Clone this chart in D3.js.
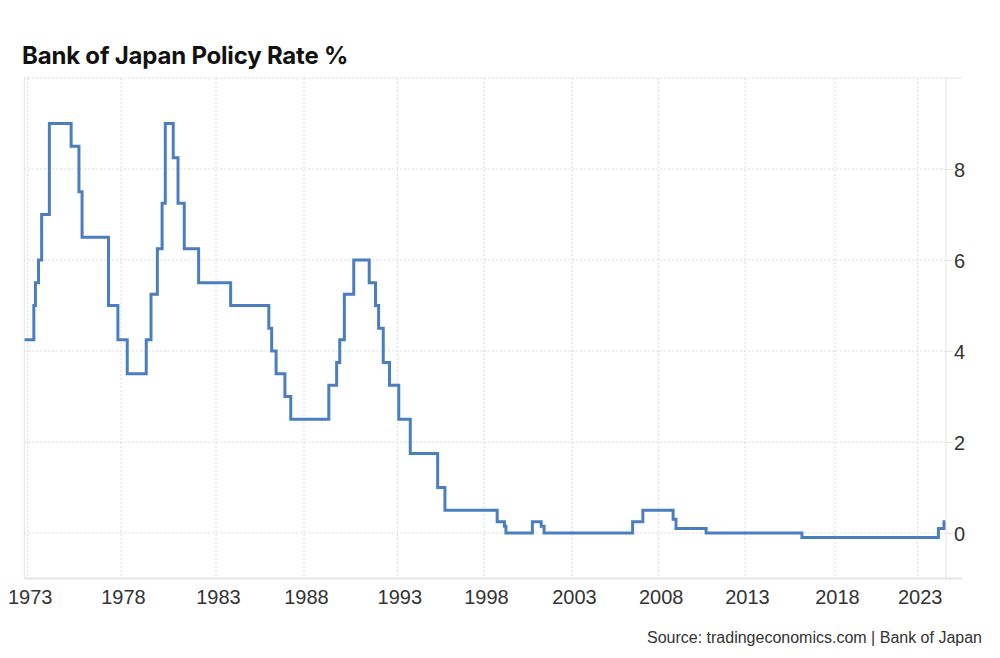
<!DOCTYPE html>
<html>
<head>
<meta charset="utf-8">
<script src="https://cdn.jsdelivr.net/npm/d3@7"></script>
<style>
  body { margin: 0; background: #fff; }
  #chart text { font-family: "Liberation Sans", Arial, sans-serif; }
  .grid line { stroke: #d9d9d9; stroke-dasharray: 2,2; }
  .axis path, .axis line { stroke: #e3e3e3; }
  .axis text { fill: #333; font-size: 20px; }
</style>
</head>
<body>
<div id="chart"></div>
<script>
// Bank of Japan policy rate, step chart

// Data (month the new rate starts, rate in %)
const rateDates = [
  '1972-11', '1973-05', '1973-06', '1973-08', '1973-10', '1974-03',
  '1975-05', '1975-10', '1975-12', '1977-05', '1977-11', '1978-05',
  '1979-05', '1979-08', '1979-12', '1980-03', '1980-05', '1980-10',
  '1981-01', '1981-05', '1982-02', '1983-11', '1986-01', '1986-03',
  '1986-06', '1986-12', '1987-04', '1989-05', '1989-10', '1989-12',
  '1990-03', '1990-09', '1991-07', '1991-11', '1992-01', '1992-04',
  '1992-08', '1993-02', '1993-10', '1995-05', '1995-10', '1998-10',
  '1999-03', '1999-04', '2000-10', '2001-04', '2001-06', '2006-07',
  '2007-02', '2008-11', '2009-01', '2010-10', '2016-03', '2024-04',
  '2024-08', '2024-09'
]
const rateValues = [
  4.25, 5.0, 5.5, 6.0, 7.0, 9.0,
  8.5, 7.5, 6.5, 5.0, 4.25, 3.5,
  4.25, 5.25, 6.25, 7.25, 9.0, 8.25,
  7.25, 6.25, 5.5, 5.0, 4.5, 4.0,
  3.5, 3.0, 2.5, 3.25, 3.75, 4.25,
  5.25, 6.0, 5.5, 5.0, 4.5, 3.75,
  3.25, 2.5, 1.75, 1.0, 0.5, 0.25,
  0.15, 0, 0.25, 0.15, 0, 0.25,
  0.5, 0.3, 0.1, 0, -0.1, 0.1,
  0.25, 0.25
]
const yearTicks = [1973, 1978, 1983, 1988, 1993, 1998, 2003, 2008, 2013, 2018, 2023]
const yTicks = [0, 2, 4, 6, 8]

// Layout
const width = 1000
const height = 658
const plot = { left: 24.3, right: 946, top: 78, bottom: 578.5 }
// the source's time axis is not quite even, so the scale is piecewise through the year ticks
const tickX = [27.7, 121, 216, 304, 397.3, 484, 572, 658.7, 745, 835, 917.7]

const parseMonth = d3.timeParse('%Y-%m')
const dataset = rateDates.map((d, i) => ({ date: parseMonth(d), value: rateValues[i] }))

const svg = d3.select('#chart')
  .append('svg')
  .attr('width', width)
  .attr('height', height)

const xScale = d3.scaleTime()
  .domain([new Date(1972, 9, 26), ...yearTicks.map(y => new Date(y, 0, 1)), new Date(2024, 8, 15)])
  .range([plot.left, ...tickX, plot.right])

const yScale = d3.scaleLinear()
  .domain([-1, 10])
  .range([plot.bottom, plot.top])

// Grid
const grid = svg.append('g').attr('class', 'grid')
grid.selectAll('.vgrid')
  .data(yearTicks)
  .enter()
  .append('line')
  .attr('class', 'vgrid')
  .attr('x1', d => xScale(new Date(d, 0, 1)))
  .attr('x2', d => xScale(new Date(d, 0, 1)))
  .attr('y1', plot.top)
  .attr('y2', plot.bottom)

grid.selectAll('.hgrid')
  .data([...yTicks, 10])
  .enter()
  .append('line')
  .attr('class', 'hgrid')
  .attr('x1', plot.left)
  .attr('x2', plot.right)
  .attr('y1', d => yScale(d))
  .attr('y2', d => yScale(d))

// Axes
const yAxis = d3.axisRight(yScale)
  .tickValues(yTicks)
  .tickSize(7)
  .tickPadding(1)
  .tickFormat(d3.format('d'))

svg.append('g')
  .attr('class', 'axis')
  .attr('id', 'y-axis')
  .attr('transform', `translate(${plot.right}, 0)`)
  .call(yAxis)
  .call(g => g.select('.domain').remove())
  .call(g => g.selectAll('text').attr('dy', '0.36em'))

const xAxis = d3.axisBottom(xScale)
  .tickValues(yearTicks.map(y => new Date(y, 0, 1)))
  .tickSize(0)
  .tickPadding(11)
  .tickFormat(d3.timeFormat('%Y'))

svg.append('g')
  .attr('class', 'axis')
  .attr('id', 'x-axis')
  .attr('transform', `translate(0, ${plot.bottom})`)
  .call(xAxis)
  .call(g => g.select('.domain').remove())
  .call(g => g.selectAll('text').attr('dy', '0.71em').attr('dx', '2'))

// frame lines: left, right, bottom, top stub
const frame = svg.append('g').attr('class', 'axis')
frame.append('line')
  .attr('x1', plot.left).attr('x2', plot.left)
  .attr('y1', plot.top).attr('y2', plot.bottom)
frame.append('line')
  .attr('x1', plot.right).attr('x2', plot.right)
  .attr('y1', plot.top).attr('y2', plot.bottom)
frame.append('line')
  .attr('x1', plot.left).attr('x2', plot.right + 16)
  .attr('y1', plot.bottom).attr('y2', plot.bottom)
  .style('stroke-width', 2)
frame.append('line')
  .attr('x1', plot.right).attr('x2', plot.right + 16)
  .attr('y1', plot.top).attr('y2', plot.top)

// Rate line
const line = d3.line()
  .curve(d3.curveStepAfter)
  .x(d => xScale(d.date))
  .y(d => yScale(d.value))

svg.append('path')
  .datum(dataset)
  .attr('fill', 'none')
  .attr('stroke', '#4a7ebf')
  .attr('stroke-width', 3)
  .attr('stroke-linejoin', 'miter')
  .attr('d', line)

// Title and source
svg.append('text')
  .attr('x', 22)
  .attr('y', 64)
  .style('font-family', 'Inter, "Liberation Sans", sans-serif')
  .style('font-weight', 700)
  .style('font-size', '24px')
  .style('letter-spacing', '-0.2px')
  .style('fill', '#111')
  .text('Bank of Japan Policy Rate %')

svg.append('text')
  .attr('x', 982)
  .attr('y', 643)
  .attr('text-anchor', 'end')
  .style('font-size', '16px')
  .style('fill', '#333')
  .text('Source: tradingeconomics.com | Bank of Japan')
</script>
</body>
</html>
